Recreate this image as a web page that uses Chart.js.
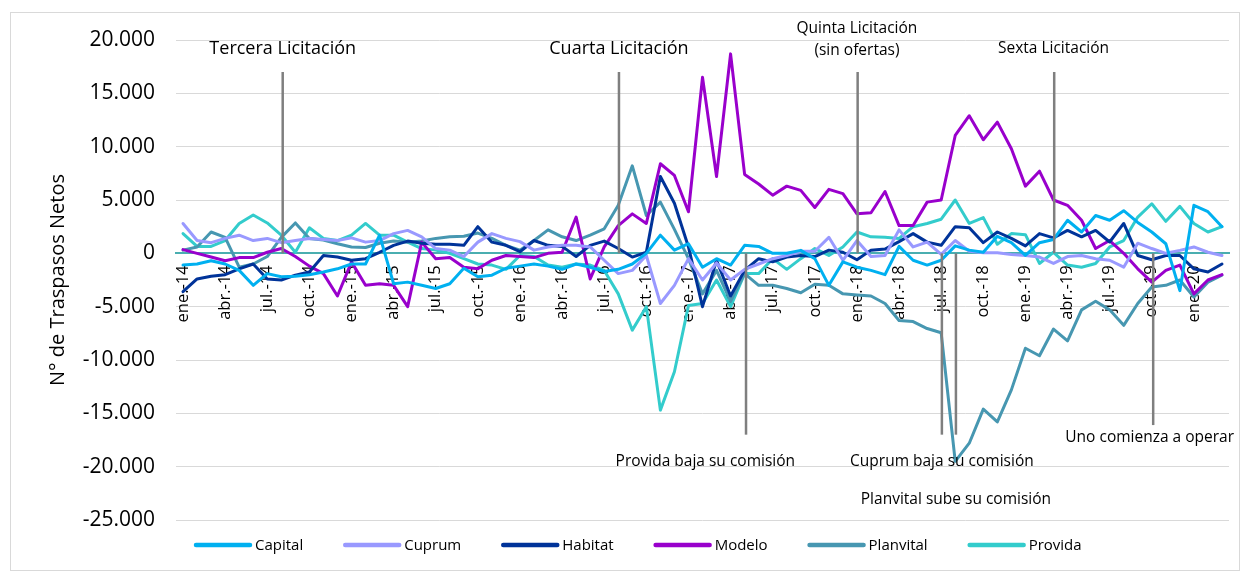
<!DOCTYPE html>
<html>
<head>
<meta charset="utf-8">
<script src="https://cdn.jsdelivr.net/npm/chart.js@4.4.0/dist/chart.umd.min.js"></script>
<style>
  html, body { margin: 0; padding: 0; background: #fff; }
  #wrap { width: 1242px; height: 573px; }
</style>
</head>
<body>
<div id="wrap"><canvas id="traspasos"></canvas></div>
<script>
// meses ene.-14 ... mar.-20
const meses = ['ene.', 'feb.', 'mar.', 'abr.', 'may.', 'jun.', 'jul.', 'ago.', 'sept.', 'oct.', 'nov.', 'dic.'];
const anios = ['14', '15', '16', '17', '18', '19', '20'];
const labels = [];
for (const a of anios) {
  for (const m of meses) {
    if (labels.length < 75) labels.push(m + '-' + a);
  }
}

const capital = [-1100,-1000,-700,-1000,-1600,-3000,-1900,-2200,-2150,-2000,-1750,-1450,-1000,
  -1000,1700,-2850,-2700,-3000,-3300,-2850,-1400,-2200,-2050,-1400,-1200,
  -1000,-1200,-1500,-1000,-1300,-1700,-1500,-1000,0,1700,300,900,
  -1300,-500,-1100,750,650,0,0,280,-500,-3000,-800,-1300,
  -1600,-2000,650,-650,-1100,-650,700,300,100,1600,1000,-200,
  1000,1300,3100,2000,3550,3100,4000,2900,2000,900,-3500,4500,3900,2500];

const cuprum = [2800,1200,1000,1400,1700,1200,1400,1000,1200,1400,1300,1200,1450,
  1050,1200,1850,2150,1550,450,300,-300,1050,1850,1400,1100,
  300,600,750,750,600,-650,-1900,-1600,-200,-4700,-3000,-500,
  -2500,-900,-2500,-1500,-1000,-500,-200,200,200,1500,-650,1200,
  -300,-200,2200,600,1050,-100,1200,200,50,50,-100,-200,
  -350,-950,-300,-200,-500,-650,-1300,950,450,0,280,600,100,-200];

const habitat = [-3600,-2400,-2150,-2000,-1450,-1000,-2400,-2500,-2050,-1750,-200,-350,-650,
  -500,100,750,1150,950,850,850,750,2500,1050,750,150,
  1200,750,650,-300,750,1150,450,-350,100,7200,4700,600,
  -5000,-650,-4000,-1600,-500,-800,-350,-200,-300,300,100,-600,
  300,400,1100,1850,1050,750,2500,2400,1000,2000,1400,700,
  1850,1450,2150,1550,2150,1060,2800,-200,-600,-200,-200,-1450,-1750,-1000];

const modelo = [350,0,-350,-700,-400,-400,100,450,-300,-1200,-1900,-4000,-800,
  -3000,-2850,-3000,-5000,1050,-500,-400,-1300,-1450,-650,-200,-300,
  -400,0,100,3400,-2400,600,2600,3700,2800,8400,7300,3900,
  16500,7200,18700,7400,6500,5450,6300,5900,4300,6000,5600,3700,
  3800,5800,2600,2600,4800,5000,11050,12900,10650,12300,9800,6300,
  7700,5000,4500,3100,450,1200,0,-1450,-2700,-1600,-1100,-3800,-2500,-2000];

const planvital = [300,600,2000,1500,-1300,-1000,-300,1500,2850,1400,1250,900,600,
  550,950,1150,1050,1150,1400,1550,1600,1900,1400,750,300,
  1200,2200,1550,1200,1700,2300,4500,8200,3550,4800,2250,-500,
  -3800,-1600,-4500,-1900,-3000,-3000,-3300,-3700,-2900,-3000,-3800,-3900,
  -4000,-4700,-6300,-6400,-7050,-7450,-19500,-17800,-14600,-15800,-12800,-8900,
  -9600,-7100,-8200,-5300,-4500,-5300,-6750,-4700,-3150,-3000,-2500,-4100,-2700,-2050];

const provida = [1850,650,650,1200,2800,3600,2850,1700,100,2400,1400,1200,1700,
  2800,1700,1700,1050,450,300,0,-500,-1000,-1100,-1500,-200,
  -300,-1100,-1300,-1000,-1100,-1600,-3800,-7200,-5000,-14700,-11100,-4900,
  -4700,-2500,-5000,-1900,-1900,-500,-1500,-500,450,-200,600,2000,
  1550,1500,1400,2500,2800,3200,5000,2800,3350,850,1850,1750,
  -950,100,-1100,-1300,-950,600,1200,3400,4650,3000,4400,2800,2000,2500];

// hitos: posicion en meses (indice), tramo de la linea y texto
const hitos = [
  {x: 7.1, desde: 0, hasta: 17000, tx: 7.1, ty: [19200], texto: ['Tercera Licitación'], size: 18},
  {x: 31.05, desde: 0, hasta: 17000, tx: 31.05, ty: [19200], texto: ['Cuarta Licitación'], size: 18},
  {x: 48.05, desde: 0, hasta: 17000, tx: 48.0, ty: [21100, 19000], texto: ['Quinta Licitación', '(sin ofertas)'], size: 15.5},
  {x: 62.05, desde: 0, hasta: 17000, tx: 62.0, ty: [19200], texto: ['Sexta Licitación'], size: 15.5},
  {x: 40.1, desde: 0, hasta: -17000, tx: 37.2, ty: [-19500], texto: ['Provida baja su comisión'], size: 15.5},
  {x: 54.05, desde: 0, hasta: -17000, tx: 54.05, ty: [-19500], texto: ['Cuprum baja su comisión'], size: 15.5},
  {x: 55.05, desde: 0, hasta: -17000, tx: 55.05, ty: [-23050], texto: ['Planvital sube su comisión'], size: 15.5},
  {x: 69.1, desde: 0, hasta: -16100, tx: 68.85, ty: [-17250], texto: ['Uno comienza a operar'], size: 15.5}
];

const FONT = '"Open Sans", "Noto Sans", sans-serif';

function miles(v) {
  const s = Math.abs(v).toString().replace(/\B(?=(\d{3})+(?!\d))/g, '.');
  return (v < 0 ? '-' : '') + s;
}

const serie = (label, data, color) => ({
  label: label,
  data: data,
  borderColor: color,
  backgroundColor: color,
  borderWidth: 3,
  pointRadius: 0,
  tension: 0,
  borderJoinStyle: 'round',
  borderCapStyle: 'round',
  fill: false
});

const notasPlugin = {
  id: 'notas',
  afterDatasetsDraw(chart) {
    const {ctx, scales: {x, y}} = chart;
    ctx.save();
    hitos.forEach(h => {
      const px = x.getPixelForValue(h.x);
      ctx.strokeStyle = '#7f7f7f';
      ctx.lineWidth = 2.5;
      ctx.beginPath();
      ctx.moveTo(px, y.getPixelForValue(h.desde));
      ctx.lineTo(px, y.getPixelForValue(h.hasta));
      ctx.stroke();
      ctx.fillStyle = '#000';
      ctx.font = h.size + 'px ' + FONT;
      ctx.textAlign = 'center';
      ctx.textBaseline = 'middle';
      h.texto.forEach((t, k) => {
        ctx.fillText(t, x.getPixelForValue(h.tx), y.getPixelForValue(h.ty[k]));
      });
    });
    ctx.restore();
  },
  afterDraw(chart) {
    const ctx = chart.ctx;
    ctx.save();
    // marco del grafico
    ctx.strokeStyle = '#d9d9d9';
    ctx.lineWidth = 1;
    ctx.strokeRect(10.5, 12.5, 1229, 558);
    // leyenda
    ctx.font = '15px ' + FONT;
    ctx.textAlign = 'left';
    ctx.textBaseline = 'middle';
    let lx = 196;
    const ly = 545;
    chart.data.datasets.forEach(ds => {
      ctx.strokeStyle = ds.borderColor;
      ctx.lineWidth = 4.5;
      ctx.lineCap = 'round';
      ctx.beginPath();
      ctx.moveTo(lx, ly);
      ctx.lineTo(lx + 54, ly);
      ctx.stroke();
      ctx.fillStyle = '#000';
      ctx.fillText(ds.label, lx + 59, ly + 1);
      lx += 59 + ctx.measureText(ds.label).width + 42;
    });
    ctx.restore();
  }
};

const traspasos_chart = new Chart(document.getElementById('traspasos'), {
  type: 'line',
  data: {
    labels: labels,
    datasets: [
      serie('Capital', capital, '#00b0f0'),
      serie('Cuprum', cuprum, '#9999ff'),
      serie('Habitat', habitat, '#003399'),
      serie('Modelo', modelo, '#9900cc'),
      serie('Planvital', planvital, '#4797b1'),
      serie('Provida', provida, '#33cccc')
    ]
  },
  options: {
    responsive: true,
    maintainAspectRatio: false,
    animation: false,
    devicePixelRatio: 1,
    layout: {padding: {left: 20, right: 13, top: 40, bottom: 53}},
    plugins: {
      legend: {display: false},
      tooltip: {enabled: false}
    },
    scales: {
      x: {
        type: 'category',
        position: {y: 0},
        offset: true,
        grid: {display: false, drawTicks: false},
        border: {display: true, color: '#4aaeb0', width: 2},
        afterFit: s => {
          s.height = 0;
          s.paddingLeft = 0;
          s.paddingRight = 0;
        },
        ticks: {
          autoSkip: false,
          minRotation: 90,
          maxRotation: 90,
          padding: 12,
          color: '#000',
          font: {family: FONT, size: 16.5},
          callback: function (val, idx) {
            return idx % 3 === 0 ? this.getLabelForValue(val) : '';
          }
        }
      },
      y: {
        min: -25000,
        max: 20000,
        afterFit: s => { s.width = 156; },
        grid: {color: '#d9d9d9', lineWidth: 1, drawTicks: false},
        border: {display: false},
        ticks: {
          stepSize: 5000,
          padding: 21,
          color: '#000',
          font: {family: FONT, size: 21},
          callback: v => miles(v)
        },
        title: {
          display: true,
          text: 'N° de Traspasos Netos',
          color: '#000',
          font: {family: FONT, size: 20},
          padding: {top: 26, bottom: 0}
        }
      }
    }
  },
  plugins: [notasPlugin]
});
</script>
</body>
</html>
